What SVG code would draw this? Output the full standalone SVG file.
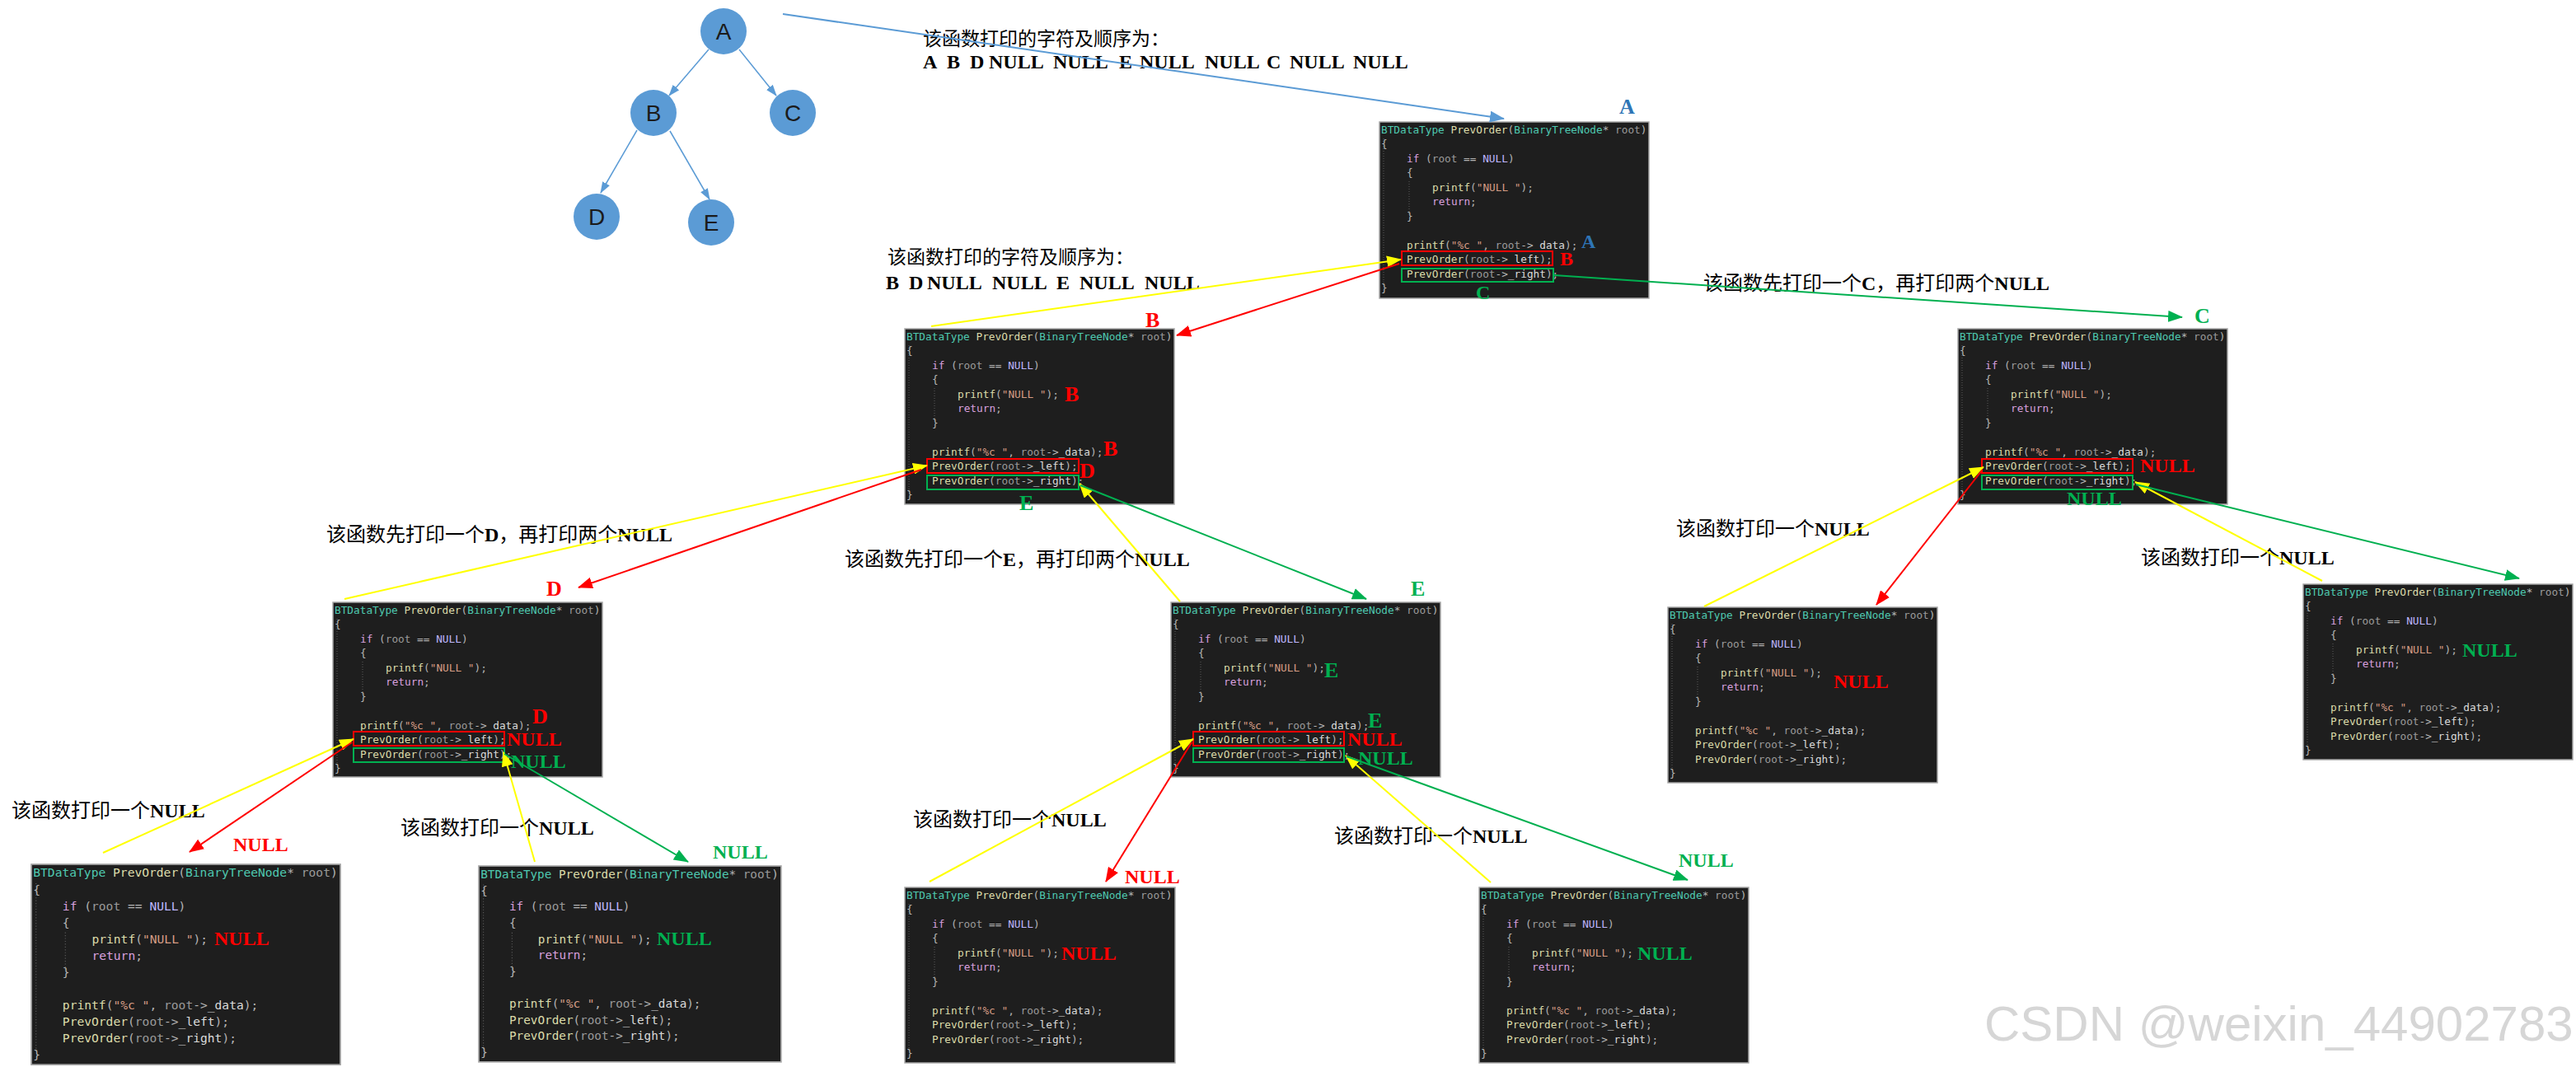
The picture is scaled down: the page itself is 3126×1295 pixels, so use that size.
<svg xmlns="http://www.w3.org/2000/svg" width="3126" height="1295" viewBox="0 0 3126 1295">
<defs>
<style>
.bg{fill:#1e1e1e;stroke:#a6a6a6;stroke-width:1.5}
.code{font-family:"DejaVu Sans Mono","Liberation Mono",monospace;font-size:12.75px;fill:#b4b4b4}
.ty{fill:#4ec9b0}.fn{fill:#dcdcaa}.pm{fill:#9a9a9a}.kw{fill:#d8a0df}.mc{fill:#beb7ff}.st{fill:#d69d85}.mb{fill:#dadada}
.guide{fill:none;stroke:#5a5a5a;stroke-width:1;stroke-dasharray:1 2}
.hr{fill:none;stroke:#ff0000;stroke-width:2}
.hg{fill:none;stroke:#00b050;stroke-width:2}
.lbl{font-family:"Liberation Serif","Times New Roman",serif;font-weight:bold;font-size:24px}
.big{font-size:26px}
.red{fill:#ff0000}.grn{fill:#00b050}.blu{fill:#2e75b6}
.cap{font-family:"Liberation Serif","Noto Sans CJK SC",serif;font-size:24px;fill:#000}
.cap23{font-size:23px}
.b{font-weight:bold}
.tc{fill:#5b9bd5}
.tt{font-family:"Liberation Sans",Arial,sans-serif;font-size:28px;fill:#1b1b1b;text-anchor:middle}
.ln{fill:none;stroke-width:2}
.ly{stroke:#ffff00;marker-end:url(#ay)}
.lr{stroke:#ff0000;marker-end:url(#ar)}
.lg{stroke:#00b050;marker-end:url(#ag)}
.lb{stroke:#5b9bd5;marker-end:url(#ab)}
.lt{fill:none;stroke:#5b9bd5;stroke-width:1.5;marker-end:url(#at)}
</style>
<marker id="ay" markerWidth="18" markerHeight="14" refX="17" refY="7" orient="auto" markerUnits="userSpaceOnUse"><path d="M0,0L18,7L0,14z" fill="#ffff00"/></marker>
<marker id="ar" markerWidth="18" markerHeight="14" refX="17" refY="7" orient="auto" markerUnits="userSpaceOnUse"><path d="M0,0L18,7L0,14z" fill="#ff0000"/></marker>
<marker id="ag" markerWidth="18" markerHeight="14" refX="17" refY="7" orient="auto" markerUnits="userSpaceOnUse"><path d="M0,0L18,7L0,14z" fill="#00b050"/></marker>
<marker id="ab" markerWidth="18" markerHeight="14" refX="17" refY="7" orient="auto" markerUnits="userSpaceOnUse"><path d="M0,0L18,7L0,14z" fill="#5b9bd5"/></marker>
<marker id="at" markerWidth="14" markerHeight="10" refX="13" refY="5" orient="auto" markerUnits="userSpaceOnUse"><path d="M0,0L14,5L0,10z" fill="#5b9bd5"/></marker>
</defs>
<rect width="3126" height="1295" fill="#ffffff"/>

<g id="tree">
<g id="tree-A"><circle class="tc" cx="878" cy="38" r="28"/><text class="tt" x="878" y="48">A</text></g>
<g id="tree-B"><circle class="tc" cx="793" cy="137" r="28"/><text class="tt" x="793" y="147">B</text></g>
<g id="tree-C"><circle class="tc" cx="962" cy="137" r="28"/><text class="tt" x="962" y="147">C</text></g>
<g id="tree-D"><circle class="tc" cx="724" cy="263" r="28"/><text class="tt" x="724" y="273">D</text></g>
<g id="tree-E"><circle class="tc" cx="863" cy="270" r="28"/><text class="tt" x="863" y="280">E</text></g>
</g>

<g id="captions">
<text class="cap cap23" x="1120" y="55">该函数打印的字符及顺序为：</text>
<text class="cap b" y="83"><tspan x="1120">A</tspan><tspan x="1149">B</tspan><tspan x="1177">D</tspan><tspan x="1200">NULL</tspan><tspan x="1278">NULL</tspan><tspan x="1358">E</tspan><tspan x="1383">NULL</tspan><tspan x="1462">NULL</tspan><tspan x="1537">C</tspan><tspan x="1565">NULL</tspan><tspan x="1642">NULL</tspan></text>
<text class="cap cap23" x="1077" y="320">该函数打印的字符及顺序为：</text>
<text class="cap b" y="351"><tspan x="1075">B</tspan><tspan x="1103">D</tspan><tspan x="1125">NULL</tspan><tspan x="1204">NULL</tspan><tspan x="1282">E</tspan><tspan x="1310">NULL</tspan><tspan x="1389">NULL</tspan></text>
<text class="cap" x="2067" y="352">该函数先打印一个<tspan class="b">C</tspan>，再打印两个<tspan class="b">NULL</tspan></text>
<text class="cap" x="396" y="657">该函数先打印一个<tspan class="b">D</tspan>，再打印两个<tspan class="b">NULL</tspan></text>
<text class="cap" x="1025" y="687">该函数先打印一个<tspan class="b">E</tspan>，再打印两个<tspan class="b">NULL</tspan></text>
<text class="cap" x="2034" y="650">该函数打印一个<tspan class="b">NULL</tspan></text>
<text class="cap" x="2598" y="685">该函数打印一个<tspan class="b">NULL</tspan></text>
<text class="cap" x="14" y="992">该函数打印一个<tspan class="b">NULL</tspan></text>
<text class="cap" x="486" y="1013">该函数打印一个<tspan class="b">NULL</tspan></text>
<text class="cap" x="1108" y="1003">该函数打印一个<tspan class="b">NULL</tspan></text>
<text class="cap" x="1619" y="1023">该函数打印一个<tspan class="b">NULL</tspan></text>
</g>

<g id="node-A">
<g transform="translate(1674,148)">
<rect class="bg" width="327" height="214"/>
<path class="guide" d="M5,20V200M36,72V114"/>
<text class="code"><tspan x="2" y="13.5"><tspan class="ty">BTDataType</tspan> <tspan class="fn">PrevOrder</tspan>(<tspan class="ty">BinaryTreeNode</tspan>* <tspan class="pm">root</tspan>)</tspan><tspan x="2" y="31">{</tspan><tspan x="33" y="48.5"><tspan class="kw">if</tspan> (<tspan class="pm">root</tspan> == <tspan class="mc">NULL</tspan>)</tspan><tspan x="33" y="66">{</tspan><tspan x="64" y="83.5"><tspan class="fn">printf</tspan>(<tspan class="st">"NULL "</tspan>);</tspan><tspan x="64" y="101"><tspan class="kw">return</tspan>;</tspan><tspan x="33" y="118.5">}</tspan><tspan x="33" y="153.5"><tspan class="fn">printf</tspan>(<tspan class="st">"%c "</tspan>, <tspan class="pm">root</tspan>-&gt;<tspan class="mb">_data</tspan>);</tspan><tspan x="33" y="171"><tspan class="fn">PrevOrder</tspan>(<tspan class="pm">root</tspan>-&gt;<tspan class="mb">_left</tspan>);</tspan><tspan x="33" y="188.5"><tspan class="fn">PrevOrder</tspan>(<tspan class="pm">root</tspan>-&gt;<tspan class="mb">_right</tspan>);</tspan><tspan x="2" y="206">}</tspan></text>
<rect class="hr" x="27" y="157" width="183" height="17"/>
<rect class="hg" x="27" y="178" width="184" height="16"/>
</g>
<text class="lbl big blu" x="1965" y="138">A</text>
<text class="lbl blu" x="1919" y="301">A</text>
<text class="lbl red" x="1893" y="322">B</text>
<text class="lbl grn" x="1791" y="363">C</text>
</g>

<g id="node-B">
<g transform="translate(1098,399)">
<rect class="bg" width="327" height="213"/>
<path class="guide" d="M5,20V200M36,72V114"/>
<text class="code"><tspan x="2" y="13.5"><tspan class="ty">BTDataType</tspan> <tspan class="fn">PrevOrder</tspan>(<tspan class="ty">BinaryTreeNode</tspan>* <tspan class="pm">root</tspan>)</tspan><tspan x="2" y="31">{</tspan><tspan x="33" y="48.5"><tspan class="kw">if</tspan> (<tspan class="pm">root</tspan> == <tspan class="mc">NULL</tspan>)</tspan><tspan x="33" y="66">{</tspan><tspan x="64" y="83.5"><tspan class="fn">printf</tspan>(<tspan class="st">"NULL "</tspan>);</tspan><tspan x="64" y="101"><tspan class="kw">return</tspan>;</tspan><tspan x="33" y="118.5">}</tspan><tspan x="33" y="153.5"><tspan class="fn">printf</tspan>(<tspan class="st">"%c "</tspan>, <tspan class="pm">root</tspan>-&gt;<tspan class="mb">_data</tspan>);</tspan><tspan x="33" y="171"><tspan class="fn">PrevOrder</tspan>(<tspan class="pm">root</tspan>-&gt;<tspan class="mb">_left</tspan>);</tspan><tspan x="33" y="188.5"><tspan class="fn">PrevOrder</tspan>(<tspan class="pm">root</tspan>-&gt;<tspan class="mb">_right</tspan>);</tspan><tspan x="2" y="206">}</tspan></text>
<rect class="hr" x="27" y="158" width="184" height="17"/>
<rect class="hg" x="27" y="178" width="184" height="17"/>
</g>
<text class="lbl big red" x="1390" y="397">B</text>
<text class="lbl big red" x="1292" y="487">B</text>
<text class="lbl big red" x="1339" y="553">B</text>
<text class="lbl big red" x="1310" y="580">D</text>
<text class="lbl big grn" x="1237" y="619">E</text>
</g>

<g id="node-C">
<g transform="translate(2376,399)">
<rect class="bg" width="327" height="213"/>
<path class="guide" d="M5,20V200M36,72V114"/>
<text class="code"><tspan x="2" y="13.5"><tspan class="ty">BTDataType</tspan> <tspan class="fn">PrevOrder</tspan>(<tspan class="ty">BinaryTreeNode</tspan>* <tspan class="pm">root</tspan>)</tspan><tspan x="2" y="31">{</tspan><tspan x="33" y="48.5"><tspan class="kw">if</tspan> (<tspan class="pm">root</tspan> == <tspan class="mc">NULL</tspan>)</tspan><tspan x="33" y="66">{</tspan><tspan x="64" y="83.5"><tspan class="fn">printf</tspan>(<tspan class="st">"NULL "</tspan>);</tspan><tspan x="64" y="101"><tspan class="kw">return</tspan>;</tspan><tspan x="33" y="118.5">}</tspan><tspan x="33" y="153.5"><tspan class="fn">printf</tspan>(<tspan class="st">"%c "</tspan>, <tspan class="pm">root</tspan>-&gt;<tspan class="mb">_data</tspan>);</tspan><tspan x="33" y="171"><tspan class="fn">PrevOrder</tspan>(<tspan class="pm">root</tspan>-&gt;<tspan class="mb">_left</tspan>);</tspan><tspan x="33" y="188.5"><tspan class="fn">PrevOrder</tspan>(<tspan class="pm">root</tspan>-&gt;<tspan class="mb">_right</tspan>);</tspan><tspan x="2" y="206">}</tspan></text>
<rect class="hr" x="29" y="158" width="183" height="17"/>
<rect class="hg" x="29" y="178" width="183" height="17"/>
</g>
<text class="lbl big grn" x="2663" y="392">C</text>
<text class="lbl red" x="2597" y="573">NULL</text>
<text class="lbl grn" x="2508" y="613">NULL</text>
</g>

<g id="node-D">
<g transform="translate(404,731)">
<rect class="bg" width="327" height="212"/>
<path class="guide" d="M5,20V200M36,72V114"/>
<text class="code"><tspan x="2" y="13.5"><tspan class="ty">BTDataType</tspan> <tspan class="fn">PrevOrder</tspan>(<tspan class="ty">BinaryTreeNode</tspan>* <tspan class="pm">root</tspan>)</tspan><tspan x="2" y="31">{</tspan><tspan x="33" y="48.5"><tspan class="kw">if</tspan> (<tspan class="pm">root</tspan> == <tspan class="mc">NULL</tspan>)</tspan><tspan x="33" y="66">{</tspan><tspan x="64" y="83.5"><tspan class="fn">printf</tspan>(<tspan class="st">"NULL "</tspan>);</tspan><tspan x="64" y="101"><tspan class="kw">return</tspan>;</tspan><tspan x="33" y="118.5">}</tspan><tspan x="33" y="153.5"><tspan class="fn">printf</tspan>(<tspan class="st">"%c "</tspan>, <tspan class="pm">root</tspan>-&gt;<tspan class="mb">_data</tspan>);</tspan><tspan x="33" y="171"><tspan class="fn">PrevOrder</tspan>(<tspan class="pm">root</tspan>-&gt;<tspan class="mb">_left</tspan>);</tspan><tspan x="33" y="188.5"><tspan class="fn">PrevOrder</tspan>(<tspan class="pm">root</tspan>-&gt;<tspan class="mb">_right</tspan>);</tspan><tspan x="2" y="206">}</tspan></text>
<rect class="hr" x="25" y="157" width="183" height="17"/>
<rect class="hg" x="25" y="177" width="183" height="17"/>
</g>
<text class="lbl big red" x="663" y="723">D</text>
<text class="lbl big red" x="646" y="878">D</text>
<text class="lbl red" x="615" y="905">NULL</text>
<text class="lbl grn" x="620" y="932">NULL</text>
</g>

<g id="node-E">
<g transform="translate(1421,731)">
<rect class="bg" width="327" height="212"/>
<path class="guide" d="M5,20V200M36,72V114"/>
<text class="code"><tspan x="2" y="13.5"><tspan class="ty">BTDataType</tspan> <tspan class="fn">PrevOrder</tspan>(<tspan class="ty">BinaryTreeNode</tspan>* <tspan class="pm">root</tspan>)</tspan><tspan x="2" y="31">{</tspan><tspan x="33" y="48.5"><tspan class="kw">if</tspan> (<tspan class="pm">root</tspan> == <tspan class="mc">NULL</tspan>)</tspan><tspan x="33" y="66">{</tspan><tspan x="64" y="83.5"><tspan class="fn">printf</tspan>(<tspan class="st">"NULL "</tspan>);</tspan><tspan x="64" y="101"><tspan class="kw">return</tspan>;</tspan><tspan x="33" y="118.5">}</tspan><tspan x="33" y="153.5"><tspan class="fn">printf</tspan>(<tspan class="st">"%c "</tspan>, <tspan class="pm">root</tspan>-&gt;<tspan class="mb">_data</tspan>);</tspan><tspan x="33" y="171"><tspan class="fn">PrevOrder</tspan>(<tspan class="pm">root</tspan>-&gt;<tspan class="mb">_left</tspan>);</tspan><tspan x="33" y="188.5"><tspan class="fn">PrevOrder</tspan>(<tspan class="pm">root</tspan>-&gt;<tspan class="mb">_right</tspan>);</tspan><tspan x="2" y="206">}</tspan></text>
<rect class="hr" x="27" y="157" width="183" height="17"/>
<rect class="hg" x="27" y="177" width="183" height="17"/>
</g>
<text class="lbl big grn" x="1712" y="723">E</text>
<text class="lbl big grn" x="1607" y="822">E</text>
<text class="lbl big grn" x="1660" y="883">E</text>
<text class="lbl red" x="1635" y="905">NULL</text>
<text class="lbl grn" x="1648" y="928">NULL</text>
</g>

<g id="node-C-left">
<g transform="translate(2024,737)">
<rect class="bg" width="327" height="213"/>
<path class="guide" d="M5,20V200M36,72V114"/>
<text class="code"><tspan x="2" y="13.5"><tspan class="ty">BTDataType</tspan> <tspan class="fn">PrevOrder</tspan>(<tspan class="ty">BinaryTreeNode</tspan>* <tspan class="pm">root</tspan>)</tspan><tspan x="2" y="31">{</tspan><tspan x="33" y="48.5"><tspan class="kw">if</tspan> (<tspan class="pm">root</tspan> == <tspan class="mc">NULL</tspan>)</tspan><tspan x="33" y="66">{</tspan><tspan x="64" y="83.5"><tspan class="fn">printf</tspan>(<tspan class="st">"NULL "</tspan>);</tspan><tspan x="64" y="101"><tspan class="kw">return</tspan>;</tspan><tspan x="33" y="118.5">}</tspan><tspan x="33" y="153.5"><tspan class="fn">printf</tspan>(<tspan class="st">"%c "</tspan>, <tspan class="pm">root</tspan>-&gt;<tspan class="mb">_data</tspan>);</tspan><tspan x="33" y="171"><tspan class="fn">PrevOrder</tspan>(<tspan class="pm">root</tspan>-&gt;<tspan class="mb">_left</tspan>);</tspan><tspan x="33" y="188.5"><tspan class="fn">PrevOrder</tspan>(<tspan class="pm">root</tspan>-&gt;<tspan class="mb">_right</tspan>);</tspan><tspan x="2" y="206">}</tspan></text>
</g>
<text class="lbl red" x="2225" y="835">NULL</text>
</g>

<g id="node-C-right">
<g transform="translate(2795,709)">
<rect class="bg" width="327" height="213"/>
<path class="guide" d="M5,20V200M36,72V114"/>
<text class="code"><tspan x="2" y="13.5"><tspan class="ty">BTDataType</tspan> <tspan class="fn">PrevOrder</tspan>(<tspan class="ty">BinaryTreeNode</tspan>* <tspan class="pm">root</tspan>)</tspan><tspan x="2" y="31">{</tspan><tspan x="33" y="48.5"><tspan class="kw">if</tspan> (<tspan class="pm">root</tspan> == <tspan class="mc">NULL</tspan>)</tspan><tspan x="33" y="66">{</tspan><tspan x="64" y="83.5"><tspan class="fn">printf</tspan>(<tspan class="st">"NULL "</tspan>);</tspan><tspan x="64" y="101"><tspan class="kw">return</tspan>;</tspan><tspan x="33" y="118.5">}</tspan><tspan x="33" y="153.5"><tspan class="fn">printf</tspan>(<tspan class="st">"%c "</tspan>, <tspan class="pm">root</tspan>-&gt;<tspan class="mb">_data</tspan>);</tspan><tspan x="33" y="171"><tspan class="fn">PrevOrder</tspan>(<tspan class="pm">root</tspan>-&gt;<tspan class="mb">_left</tspan>);</tspan><tspan x="33" y="188.5"><tspan class="fn">PrevOrder</tspan>(<tspan class="pm">root</tspan>-&gt;<tspan class="mb">_right</tspan>);</tspan><tspan x="2" y="206">}</tspan></text>
</g>
<text class="lbl grn" x="2988" y="797">NULL</text>
</g>

<g id="node-D-left">
<g transform="translate(38,1049) scale(1.147)">
<rect class="bg" width="327" height="212"/>
<path class="guide" d="M5,20V200M36,72V114"/>
<text class="code"><tspan x="2" y="13.5"><tspan class="ty">BTDataType</tspan> <tspan class="fn">PrevOrder</tspan>(<tspan class="ty">BinaryTreeNode</tspan>* <tspan class="pm">root</tspan>)</tspan><tspan x="2" y="31">{</tspan><tspan x="33" y="48.5"><tspan class="kw">if</tspan> (<tspan class="pm">root</tspan> == <tspan class="mc">NULL</tspan>)</tspan><tspan x="33" y="66">{</tspan><tspan x="64" y="83.5"><tspan class="fn">printf</tspan>(<tspan class="st">"NULL "</tspan>);</tspan><tspan x="64" y="101"><tspan class="kw">return</tspan>;</tspan><tspan x="33" y="118.5">}</tspan><tspan x="33" y="153.5"><tspan class="fn">printf</tspan>(<tspan class="st">"%c "</tspan>, <tspan class="pm">root</tspan>-&gt;<tspan class="mb">_data</tspan>);</tspan><tspan x="33" y="171"><tspan class="fn">PrevOrder</tspan>(<tspan class="pm">root</tspan>-&gt;<tspan class="mb">_left</tspan>);</tspan><tspan x="33" y="188.5"><tspan class="fn">PrevOrder</tspan>(<tspan class="pm">root</tspan>-&gt;<tspan class="mb">_right</tspan>);</tspan><tspan x="2" y="206">}</tspan></text>
</g>
<text class="lbl red" x="283" y="1033">NULL</text>
<text class="lbl red" x="260" y="1147">NULL</text>
</g>

<g id="node-D-right">
<g transform="translate(581,1051) scale(1.122)">
<rect class="bg" width="327" height="212"/>
<path class="guide" d="M5,20V200M36,72V114"/>
<text class="code"><tspan x="2" y="13.5"><tspan class="ty">BTDataType</tspan> <tspan class="fn">PrevOrder</tspan>(<tspan class="ty">BinaryTreeNode</tspan>* <tspan class="pm">root</tspan>)</tspan><tspan x="2" y="31">{</tspan><tspan x="33" y="48.5"><tspan class="kw">if</tspan> (<tspan class="pm">root</tspan> == <tspan class="mc">NULL</tspan>)</tspan><tspan x="33" y="66">{</tspan><tspan x="64" y="83.5"><tspan class="fn">printf</tspan>(<tspan class="st">"NULL "</tspan>);</tspan><tspan x="64" y="101"><tspan class="kw">return</tspan>;</tspan><tspan x="33" y="118.5">}</tspan><tspan x="33" y="153.5"><tspan class="fn">printf</tspan>(<tspan class="st">"%c "</tspan>, <tspan class="pm">root</tspan>-&gt;<tspan class="mb">_data</tspan>);</tspan><tspan x="33" y="171"><tspan class="fn">PrevOrder</tspan>(<tspan class="pm">root</tspan>-&gt;<tspan class="mb">_left</tspan>);</tspan><tspan x="33" y="188.5"><tspan class="fn">PrevOrder</tspan>(<tspan class="pm">root</tspan>-&gt;<tspan class="mb">_right</tspan>);</tspan><tspan x="2" y="206">}</tspan></text>
</g>
<text class="lbl grn" x="865" y="1042">NULL</text>
<text class="lbl grn" x="797" y="1147">NULL</text>
</g>

<g id="node-E-left">
<g transform="translate(1098,1077)">
<rect class="bg" width="328" height="213"/>
<path class="guide" d="M5,20V200M36,72V114"/>
<text class="code"><tspan x="2" y="13.5"><tspan class="ty">BTDataType</tspan> <tspan class="fn">PrevOrder</tspan>(<tspan class="ty">BinaryTreeNode</tspan>* <tspan class="pm">root</tspan>)</tspan><tspan x="2" y="31">{</tspan><tspan x="33" y="48.5"><tspan class="kw">if</tspan> (<tspan class="pm">root</tspan> == <tspan class="mc">NULL</tspan>)</tspan><tspan x="33" y="66">{</tspan><tspan x="64" y="83.5"><tspan class="fn">printf</tspan>(<tspan class="st">"NULL "</tspan>);</tspan><tspan x="64" y="101"><tspan class="kw">return</tspan>;</tspan><tspan x="33" y="118.5">}</tspan><tspan x="33" y="153.5"><tspan class="fn">printf</tspan>(<tspan class="st">"%c "</tspan>, <tspan class="pm">root</tspan>-&gt;<tspan class="mb">_data</tspan>);</tspan><tspan x="33" y="171"><tspan class="fn">PrevOrder</tspan>(<tspan class="pm">root</tspan>-&gt;<tspan class="mb">_left</tspan>);</tspan><tspan x="33" y="188.5"><tspan class="fn">PrevOrder</tspan>(<tspan class="pm">root</tspan>-&gt;<tspan class="mb">_right</tspan>);</tspan><tspan x="2" y="206">}</tspan></text>
</g>
<text class="lbl red" x="1365" y="1072">NULL</text>
<text class="lbl red" x="1288" y="1165">NULL</text>
</g>

<g id="node-E-right">
<g transform="translate(1795,1077)">
<rect class="bg" width="327" height="213"/>
<path class="guide" d="M5,20V200M36,72V114"/>
<text class="code"><tspan x="2" y="13.5"><tspan class="ty">BTDataType</tspan> <tspan class="fn">PrevOrder</tspan>(<tspan class="ty">BinaryTreeNode</tspan>* <tspan class="pm">root</tspan>)</tspan><tspan x="2" y="31">{</tspan><tspan x="33" y="48.5"><tspan class="kw">if</tspan> (<tspan class="pm">root</tspan> == <tspan class="mc">NULL</tspan>)</tspan><tspan x="33" y="66">{</tspan><tspan x="64" y="83.5"><tspan class="fn">printf</tspan>(<tspan class="st">"NULL "</tspan>);</tspan><tspan x="64" y="101"><tspan class="kw">return</tspan>;</tspan><tspan x="33" y="118.5">}</tspan><tspan x="33" y="153.5"><tspan class="fn">printf</tspan>(<tspan class="st">"%c "</tspan>, <tspan class="pm">root</tspan>-&gt;<tspan class="mb">_data</tspan>);</tspan><tspan x="33" y="171"><tspan class="fn">PrevOrder</tspan>(<tspan class="pm">root</tspan>-&gt;<tspan class="mb">_left</tspan>);</tspan><tspan x="33" y="188.5"><tspan class="fn">PrevOrder</tspan>(<tspan class="pm">root</tspan>-&gt;<tspan class="mb">_right</tspan>);</tspan><tspan x="2" y="206">}</tspan></text>
</g>
<text class="lbl grn" x="2037" y="1052">NULL</text>
<text class="lbl grn" x="1987" y="1165">NULL</text>
</g>

<g id="connectors">
<path class="lt" d="M860,60L812,116"/>
<path class="lt" d="M897,60L942,116"/>
<path class="lt" d="M773,158L729,234"/>
<path class="lt" d="M813,159L861,242"/>
<path class="ln lb" d="M950,17L1825,144"/>
<path class="ln ly" d="M1130,396L1700,315"/>
<path class="ln ly" d="M418,727L1125,565"/>
<path class="ln ly" d="M1432,730L1310,587"/>
<path class="ln ly" d="M2068,736L2407,567"/>
<path class="ln ly" d="M2818,705L2591,585"/>
<path class="ln ly" d="M125,1035L429,897"/>
<path class="ln ly" d="M649,1046L611,913"/>
<path class="ln ly" d="M1128,1070L1448,897"/>
<path class="ln ly" d="M1809,1071L1633,917"/>
<path class="ln lr" d="M1698,320L1428,407"/>
<path class="ln lr" d="M1118,570L702,713"/>
<path class="ln lr" d="M2405,571L2277,734"/>
<path class="ln lr" d="M427,901L230,1034"/>
<path class="ln lr" d="M1446,901L1342,1070"/>
<path class="ln lg" d="M1886,334L2648,385"/>
<path class="ln lg" d="M1311,589L1658,727"/>
<path class="ln lg" d="M2592,588L3057,702"/>
<path class="ln lg" d="M612,915L835,1046"/>
<path class="ln lg" d="M1634,918L2048,1068"/>
</g>

<g id="watermark">
<text x="2408" y="1263" font-family="Liberation Sans, Arial, sans-serif" font-size="60" fill="#d6d6d6">CSDN @weixin_44902783</text>
</g>
</svg>
